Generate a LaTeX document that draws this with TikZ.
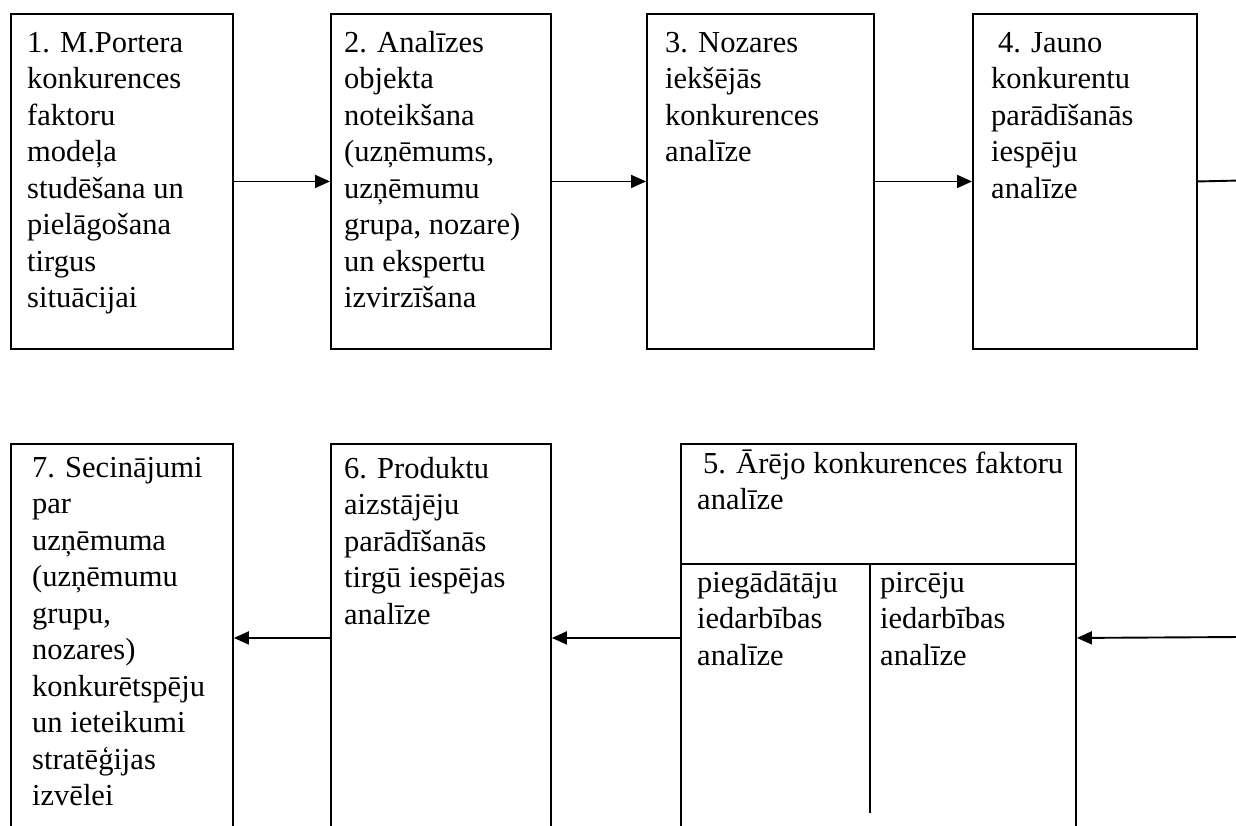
\documentclass[tikz,border=0pt]{standalone}
\usepackage{fontspec}
\setmainfont{Liberation Serif}
\usetikzlibrary{arrows.meta}
\newcommand{\boxlines}[1]{\begin{tabular}[t]{@{}l@{}}#1\end{tabular}}
\tikzset{
  stepbox/.style={draw=black, line width=1.9pt, rectangle, inner sep=0pt, anchor=north west},
  txt/.style={inner sep=0pt, anchor=base west, font=\fontsize{30.5}{36.5}\selectfont},
  conn/.style={draw=black, line width=1.9pt},
  arr/.style={conn, -{Triangle[length=15pt,width=13pt]}}
}
\begin{document}
\begin{tikzpicture}[x=1pt,y=-1pt]
\clip (0,0) rectangle (1236,825);
\fill[white] (0,0) rectangle (1236,825);
% top row boxes
\node[stepbox, minimum width=222pt, minimum height=335pt] (b1) at (10,13) {};
\node[stepbox, minimum width=220pt, minimum height=335pt] (b2) at (330,13) {};
\node[stepbox, minimum width=227pt, minimum height=335pt] (b3) at (646,13) {};
\node[stepbox, minimum width=224pt, minimum height=335pt] (b4) at (972,13) {};
% bottom row boxes
\node[stepbox, minimum width=222pt, minimum height=388pt] (b7) at (10,443) {};
\node[stepbox, minimum width=220pt, minimum height=388pt] (b6) at (330,443) {};
\node[stepbox, minimum width=395pt, minimum height=388pt] (b5) at (680,443) {};
\coordinate (b5l) at (680,564);
\coordinate (b5r) at (1075,564);
\coordinate (b5m) at (870,564);
\coordinate (b5mb) at (870,813);
\draw[conn] (b5l) -- (b5r);
\draw[conn, line width=1.4pt] (b5m) -- (b5mb);
% texts
\node[txt] (t1) at (27,52) {\boxlines{1. M.Portera\\konkurences\\faktoru\\modeļa\\studēšana un\\pielāgošana\\tirgus\\situācijai}};
\node[txt] (t2) at (344,52) {\boxlines{2. Analīzes\\objekta\\noteikšana\\(uzņēmums,\\uzņēmumu\\grupa, nozare)\\un ekspertu\\izvirzīšana}};
\node[txt] (t3) at (665,52) {\boxlines{3. Nozares\\iekšējās\\konkurences\\analīze}};
\node[txt] (t4) at (991,52) {\boxlines{\hspace*{7pt}4. Jauno\\konkurentu\\parādīšanās\\iespēju\\analīze}};
\node[txt] (t7) at (32,477) {\boxlines{7. Secinājumi\\par\\uzņēmuma\\(uzņēmumu\\grupu,\\nozares)\\konkurētspēju\\un ieteikumi\\stratēģijas\\izvēlei}};
\node[txt] (t6) at (344,478) {\boxlines{6. Produktu\\aizstājēju\\parādīšanās\\tirgū iespējas\\analīze}};
\node[txt] (t5) at (697,473) {\boxlines{\hspace*{6pt}5. Ārējo konkurences faktoru\\analīze}};
\node[txt] (t5a) at (697,592) {\boxlines{piegādātāju\\iedarbības\\analīze}};
\node[txt] (t5b) at (880,592) {\boxlines{pircēju\\iedarbības\\analīze}};
% connectors
\coordinate (r1) at (1240,180.5);
\coordinate (r2) at (1240,637);
\draw[arr] (b1.east) -- (b2.west);
\draw[arr] (b2.east) -- (b3.west);
\draw[arr] (b3.east) -- (b4.west);
\draw[conn] (b4.east) -- (r1);
\draw[arr] (r2) -- (b5.east);
\draw[arr] (b5.west) -- (b6.east);
\draw[arr] (b6.west) -- (b7.east);
\end{tikzpicture}
\end{document}
